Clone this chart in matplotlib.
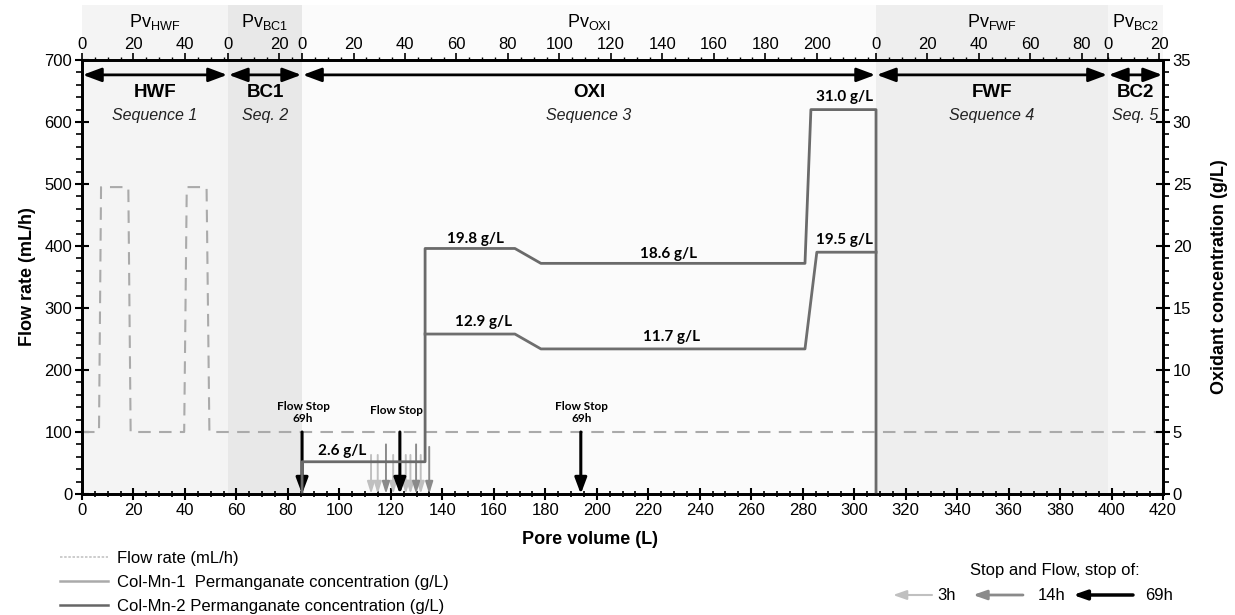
import matplotlib
matplotlib.use("Agg")
import matplotlib.pyplot as plt
from matplotlib.lines import Line2D
from matplotlib.patches import Rectangle, FancyArrowPatch
import numpy as np

plt.rcParams['font.family'] = ['Liberation Sans', 'DejaVu Sans']
plt.rcParams['mathtext.fontset'] = 'custom'
plt.rcParams['mathtext.rm'] = 'Liberation Sans'

# segments (pore volume starts, L) and names
seg_names = ["HWF", "BC1", "OXI", "FWF", "BC2"]
seg_start = [0, 56.7, 85.5, 308.5, 398.6]
seg_end = [56.7, 85.5, 308.5, 398.6, 420]
seg_sub = ["Sequence 1", "Seq. 2", "Sequence 3", "Sequence 4", "Seq. 5"]
seg_pv_ticks = [[0, 20, 40], [0, 20], list(range(0, 201, 20)), [0, 20, 40, 60, 80], [0, 20]]
seg_colors = ["#f4f4f4", "#e8e8e8", "#fbfbfb", "#eeeeee", "#f6f6f6"]

# flow rate (mL/h)
flow_x = [0, 6.6, 7.4, 18.0, 18.9, 39.7, 40.7, 48.4, 49.5, 420]
flow_y = [100, 100, 495, 495, 100, 100, 495, 495, 100, 100]

# permanganate concentration (g/L)
mn2_x = [85.5, 85.5, 133.3, 133.3, 168.2, 178.3, 280.9, 283.2, 308.5, 308.5]
mn2_y = [0, 2.6, 2.6, 19.8, 19.8, 18.6, 18.6, 31.0, 31.0, 0]
mn1_x = [133.3, 168.2, 178.3, 280.9, 285.5, 308.5]
mn1_y = [12.9, 12.9, 11.7, 11.7, 19.5, 19.5]

conc_labels = ["2.6 g/L", "19.8 g/L", "18.6 g/L", "12.9 g/L", "11.7 g/L", "31.0 g/L", "19.5 g/L"]
conc_lab_x = [101, 152.7, 227.7, 155.9, 229.2, 296.4, 296.4]
conc_lab_y = [3.5, 20.6, 19.35, 13.9, 12.7, 32.0, 20.5]

# stop & flow arrows (x in L, top in mL/h)
stop69_x = [85.5, 123.5, 193.8]
stop69_top = [100, 100, 100]
stop14_x = [118.1, 129.8, 134.9]
stop14_top = [80, 80, 76]
stop3_x = [112.3, 114.9, 120.9, 125.8, 127.6, 131.6]
stop3_top = [63, 63, 63, 63, 63, 63]

stop_text = ["Flow Stop\n69h", "Flow Stop", "Flow Stop\n69h"]
stop_text_x = [85.9, 122.3, 194.2]
stop_text_y = [132, 134, 132]

fig = plt.figure(figsize=(12.35, 6.15), dpi=100)
ax = fig.add_axes([82 / 1235, 121 / 615, 1081 / 1235, 434 / 615])
ax.set_xlim(0, 420)
ax.set_ylim(0, 700)

# shaded sequences, extending above the frame
for s, e, c in zip(seg_start, seg_end, seg_colors):
    ax.add_patch(Rectangle((s, 0), e - s, 1.127, transform=ax.get_xaxis_transform(),
                           facecolor=c, edgecolor='none', clip_on=False, zorder=0))

ax.plot(flow_x, flow_y, color="#aaaaaa", lw=1.5, dashes=(6, 4), zorder=2)

# sequence arrows and titles
for s, e, n, sub in zip(seg_start, seg_end, seg_names, seg_sub):
    ax.annotate("", xy=(s + 0.3, 676), xytext=(e - 0.3, 676),
                arrowprops=dict(arrowstyle="<|-|>,head_length=0.75,head_width=0.28",
                                mutation_scale=15, color="black", lw=2, shrinkA=0, shrinkB=0))
    mid = (s + e) / 2
    ax.text(mid, 647, n, ha='center', va='center', fontsize=13.5, fontweight='bold')
    ax.text(mid, 611, sub, ha='center', va='center', fontsize=11.5, style='italic', color='#222222')

# stop arrows
for x, t in zip(stop3_x, stop3_top):
    ax.annotate("", xy=(x, 0), xytext=(x, t),
                arrowprops=dict(arrowstyle="-|>,head_length=0.8,head_width=0.25",
                                mutation_scale=9, color="#c0c0c0", lw=1.4, shrinkA=0, shrinkB=0))
for x, t in zip(stop14_x, stop14_top):
    ax.annotate("", xy=(x, 0), xytext=(x, t),
                arrowprops=dict(arrowstyle="-|>,head_length=0.8,head_width=0.25",
                                mutation_scale=9, color="#8a8a8a", lw=1.4, shrinkA=0, shrinkB=0))
for x, t in zip(stop69_x, stop69_top):
    ax.annotate("", xy=(x, 0), xytext=(x, t), zorder=5,
                arrowprops=dict(arrowstyle="-|>,head_length=0.8,head_width=0.3",
                                mutation_scale=12, color="black", lw=2.2, shrinkA=0, shrinkB=0))
for s, x, y in zip(stop_text, stop_text_x, stop_text_y):
    ax.text(x, y, s, ha='center', va='center', fontsize=8.5, fontweight='bold',
            family=['Lato', 'DejaVu Sans'], linespacing=1.1)

# axes styling
for sp in ax.spines.values():
    sp.set_linewidth(1.8)
ax.set_xticks(np.arange(0, 421, 20))
ax.set_xticks(np.arange(0, 421, 5), minor=True)
ax.set_yticks(np.arange(0, 701, 100))
ax.set_yticks(np.arange(0, 701, 20), minor=True)
ax.tick_params(axis='x', which='major', direction='inout', length=9, width=1.5, labelsize=12, pad=2)
ax.tick_params(axis='x', which='minor', direction='inout', length=5, width=1.2)
ax.tick_params(axis='y', which='major', direction='inout', length=10, width=1.5, labelsize=12, pad=2)
ax.tick_params(axis='y', which='minor', direction='out', length=4, width=1.2)
ax.set_xlabel("Pore volume (L)", fontsize=13, fontweight='bold')
ax.xaxis.set_label_coords(0.47, -0.085)
ax.set_ylabel("Flow rate (mL/h)", fontsize=13, fontweight='bold', labelpad=6)

# concentration axis
ax2 = ax.twinx()
ax2.set_ylim(0, 35)
ax2.plot(mn2_x, mn2_y, color="#6a6a6a", lw=2, zorder=3)
ax2.plot(mn1_x, mn1_y, color="#6e6e6e", lw=2, zorder=3)
for s, x, y in zip(conc_labels, conc_lab_x, conc_lab_y):
    ax2.text(x, y, s, ha='center', va='center', fontsize=11, fontweight='bold',
             family=['Lato', 'DejaVu Sans'])
ax2.set_yticks(np.arange(0, 36, 5))
ax2.set_yticks(np.arange(0, 36, 1), minor=True)
ax2.tick_params(axis='y', which='major', direction='inout', length=10, width=1.5, labelsize=12, pad=2)
ax2.tick_params(axis='y', which='minor', direction='out', length=4, width=1.2)
ax2.set_ylabel("Oxidant concentration (g/L)", fontsize=13, fontweight='bold', labelpad=14)
for sp in ax2.spines.values():
    sp.set_linewidth(1.8)

# top pore-volume axis per sequence
ax3 = ax.twiny()
ax3.set_xlim(0, 420)
maj, lab, mnr = [], [], []
for s, e, ticks in zip(seg_start, seg_end, seg_pv_ticks):
    for t in ticks:
        maj.append(s + t)
        lab.append(str(t))
    for m in np.arange(0, e - s + 0.01, 5):
        mnr.append(s + m)
ax3.set_xticks(maj)
ax3.set_xticklabels(lab)
ax3.set_xticks(mnr, minor=True)
ax3.tick_params(axis='x', which='major', direction='out', length=5, width=1.2, labelsize=12, pad=1)
ax3.tick_params(axis='x', which='minor', direction='out', length=2, width=1.0)
for sp in ax3.spines.values():
    sp.set_linewidth(1.8)
for s, e, n in zip(seg_start, seg_end, seg_names):
    ax3.text((s + e) / 2, 1.088, r"Pv$_{\mathregular{%s}}$" % n, transform=ax3.get_xaxis_transform(),
             ha='center', va='center', fontsize=13)

# legends
handles = [Line2D([], [], color="#c4c4c4", lw=1.2, ls=(0, (1.5, 1))),
           Line2D([], [], color="#aaaaaa", lw=1.8),
           Line2D([], [], color="#666666", lw=1.8)]
labels = ["Flow rate (mL/h)", "Col-Mn-1  Permanganate concentration (g/L)",
          "Col-Mn-2 Permanganate concentration (g/L)"]
fig.legend(handles, labels, loc='upper left', bbox_to_anchor=(60 / 1235, 1 - 551 / 615),
           frameon=False, fontsize=12, handlelength=2.9, handletextpad=0.5,
           labelspacing=0.55, borderpad=0, borderaxespad=0)

fig.text(1055 / 1235, 45 / 615, "Stop and Flow, stop of:", ha='center', va='center', fontsize=12)
key_arrows = [(932, 893, "#c0c0c0", 1.5, "3h", 937),
              (1023, 973, "#8a8a8a", 2.0, "14h", 1038),
              (1133, 1073, "black", 2.5, "69h", 1145)]
for x0, x1, c, lw, t, tx in key_arrows:
    fig.add_artist(FancyArrowPatch(
        (x0 / 1235, 20 / 615), (x1 / 1235, 20 / 615), transform=fig.transFigure,
        arrowstyle="-|>,head_length=0.8,head_width=0.28", mutation_scale=10,
        color=c, lw=lw, shrinkA=0, shrinkB=0))
    fig.text(tx / 1235, 20 / 615, t, ha='left', va='center', fontsize=12)

fig.savefig("out.png", dpi=100)
